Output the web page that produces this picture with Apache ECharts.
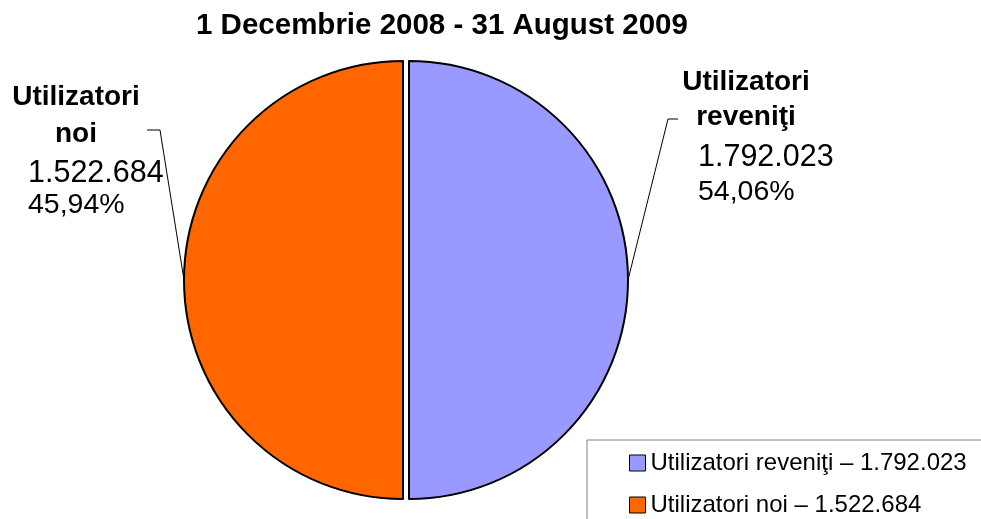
<!DOCTYPE html>
<html>
<head>
<meta charset="utf-8">
<script src="https://cdn.jsdelivr.net/npm/echarts@6/dist/echarts.min.js"></script>
<style>
  html, body { margin: 0; padding: 0; background: #fff; }
  #chart { width: 981px; height: 519px; }
</style>
</head>
<body>
<div id="chart"></div>
<script>
// Users by type, 1 Dec 2008 - 31 Aug 2009.
const categories = ['Utilizatori reveniţi', 'Utilizatori noi'];
const labelWords = [['Utilizatori', 'reveniţi'], ['Utilizatori', 'noi']];
const userCounts = [1792023, 1522684];
// wedge sizes as drawn in the original picture: two halves
const drawnShares = [50, 50];
const sliceColors = ['#9999FF', '#FF6600'];

const FONT = '"Liberation Sans", Arial, sans-serif';
const total = userCounts.reduce((s, v) => s + v, 0);

function fmtCount(n) { return String(n).replace(/\B(?=(\d{3})+(?!\d))/g, '.'); }
function fmtPct(n) { return (n / total * 100).toFixed(2).replace('.', ',') + '%'; }

// each wedge is pulled out sideways a few px (exploded pie)
const PIE_C = [406, 280], PIE_R = 219, EXPLODE = 3;
// label blocks: top-left corner, side, y of the leader line tail,
// and the (uneven) line heights of the four text rows
const labelSpots = [
  { x: 682, y: 65, side: 'right', lineY: 119, rows: [35, 35, 45, 25] },
  { x: 12, y: 79, side: 'left', lineY: 130, rows: [37, 37, 41, 23] },
];
const LABEL_W = 128;

function richFor(spot) {
  const [h1, h2, h3, h4] = spot.rows;
  return {
    b1: { fontFamily: FONT, fontSize: 28, fontWeight: 'bold', lineHeight: h1, align: 'center', color: '#000' },
    b2: { fontFamily: FONT, fontSize: 28, fontWeight: 'bold', lineHeight: h2, align: 'center', color: '#000' },
    n: { fontFamily: FONT, fontSize: 30.5, lineHeight: h3, align: 'left', padding: [0, 0, 0, 16], color: '#000' },
    p: { fontFamily: FONT, fontSize: 28.5, lineHeight: h4, align: 'left', padding: [0, 0, 0, 16], color: '#000' },
  };
}

function placeLabel(params, spot) {
  const start = params.labelLinePoints ? params.labelLinePoints[0] : null;
  let end, corner;
  if (spot.side === 'right') {
    end = [spot.x - 4, spot.lineY];
    corner = [end[0] - 10, spot.lineY];
  } else {
    end = [spot.x + LABEL_W + 7, spot.lineY];
    corner = [end[0] + 13, spot.lineY];
  }
  const out = { x: spot.x, y: spot.y, align: 'left', verticalAlign: 'top' };
  if (start) out.labelLinePoints = [start, corner, end];
  return out;
}

// one series per wedge so each can be shifted; the other half is a blank spacer
function wedgeSeries(i) {
  const dir = i === 0 ? 1 : -1;
  const spot = labelSpots[i];
  const data = categories.map((name, j) => j === i
    ? {
        name,
        value: drawnShares[j],
        itemStyle: { color: sliceColors[j], borderColor: '#000', borderWidth: 2 },
      }
    : {
        name: '_spacer' + j,
        value: drawnShares[j],
        itemStyle: { color: 'transparent', borderWidth: 0 },
        label: { show: false },
        labelLine: { show: false },
      });
  return {
    type: 'pie',
    center: [PIE_C[0] + dir * EXPLODE, PIE_C[1]],
    radius: PIE_R,
    startAngle: 90,
    clockwise: true,
    silent: true,
    emphasis: { disabled: true },
    label: {
      show: true,
      position: 'outside',
      width: LABEL_W,
      overflow: 'none',
      color: '#000',
      formatter: (p) => {
        const k = p.dataIndex;
        return '{b1|' + labelWords[k][0] + '}\n{b2|' + labelWords[k][1] + '}\n' +
               '{n|' + fmtCount(userCounts[k]) + '}\n{p|' + fmtPct(userCounts[k]) + '}';
      },
      rich: richFor(spot),
    },
    labelLine: { show: true, lineStyle: { color: '#000', width: 1 } },
    labelLayout: (params) => params.dataIndex === i ? placeLabel(params, spot) : {},
    data,
  };
}

const chart = echarts.init(document.getElementById('chart'));
chart.setOption({
  animation: false,
  backgroundColor: '#fff',
  textStyle: { fontFamily: FONT },
  title: {
    text: '1 Decembrie 2008 - 31 August 2009',
    left: 191, top: 6,
    textStyle: { fontFamily: FONT, fontSize: 29.5, fontWeight: 'bold', color: '#000' },
  },
  legend: {
    orient: 'vertical',
    left: 587, top: 440, height: 120,
    padding: [11, 40, 30, 42],
    itemWidth: 16, itemHeight: 16, itemGap: 18,
    backgroundColor: '#fff',
    borderColor: '#808080', borderWidth: 1,
    icon: 'rect',
    selectedMode: false,
    itemStyle: { borderColor: '#000', borderWidth: 1 },
    textStyle: { fontFamily: FONT, fontSize: 24, lineHeight: 24, color: '#000' },
    formatter: (name) => name + ' – ' + fmtCount(userCounts[categories.indexOf(name)]),
    data: categories,
  },
  series: [wedgeSeries(0), wedgeSeries(1)],
});
</script>
</body>
</html>
